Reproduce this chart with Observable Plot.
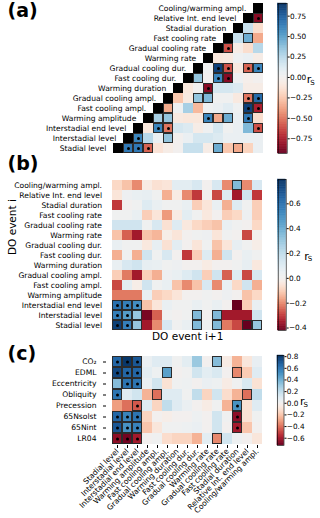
<!DOCTYPE html>
<html><head><meta charset="utf-8">
<script src="https://cdn.jsdelivr.net/npm/d3@7"></script>
<script src="https://cdn.jsdelivr.net/npm/@observablehq/plot@0.6"></script>
<style>
html,body{margin:0;padding:0;background:#fff;}
#chart{position:relative;width:320px;height:518px;overflow:hidden;font-family:"DejaVu Sans",sans-serif;}
#chart svg{position:absolute;left:0;top:0;}
</style></head><body><div id="chart"></div>
<script>
// ---------- data ----------
const variables = ["Stadial level","Interstadial level","Interstadial end level","Warming amplitude","Fast cooling ampl.","Gradual cooling ampl.","Warming duration","Fast cooling dur.","Gradual cooling dur.","Warming rate","Gradual cooling rate","Fast cooling rate","Stadial duration","Relative Int. end level","Cooling/warming ampl."];
const climateVars = ["CO₂","EDML","Eccentricity","Obliquity","Precession","65Nsolst","65Nint","LR04"];

// (a) upper triangle: row r holds columns r+1 .. 14
const corrA = [
  [0.65, 0.65, -0.55, -0.12, -0.05, 0.0, 0.2, 0.2, -0.05, 0.45, -0.25, -0.35, -0.2, 0.05],
  [0.6, 0.25, 0.05, 0.35, 0.0, 0.05, 0.15, 0.15, 0.12, 0.05, 0.05, 0.05, 0.05],
  [-0.1, 0.6, -0.5, 0.15, 0.12, -0.05, 0.03, 0.15, 0.02, 0.05, 0.4, -0.6],
  [0.3, 0.35, -0.08, -0.1, -0.1, 0.6, -0.35, 0.45, 0.05, 0.65, -0.15],
  [-0.35, 0.03, 0.3, -0.3, 0.03, 0.05, 0.1, 0.03, 0.85, -0.75],
  [-0.25, -0.08, 0.35, 0.4, 0.02, 0.02, -0.08, -0.5, 0.7],
  [-0.1, 0.0, -0.85, 0.15, 0.15, 0.12, -0.05, -0.05],
  [0.35, 0.0, 0.6, -0.85, 0.03, -0.03, 0.0],
  [0.02, 0.85, -0.6, -0.08, -0.55, 0.6],
  [-0.1, -0.08, 0.03, 0.05, -0.05],
  [-0.6, -0.05, -0.15, 0.25],
  [0.2, 0.45, -0.35],
  [0.2, -0.15],
  [-0.85]
];
const boxesA = [[0,10],[0,12],[1,5],[3,4],[3,5],[3,10],[3,11],[4,5],[5,8],[5,9],[7,8],[11,13]];
const dotsA = [[0,1],[0,2],[0,3],[1,2],[2,4],[2,5],[2,14],[3,9],[3,13],[4,13],[4,14],[5,13],[5,14],[6,9],[7,10],[7,11],[8,10],[8,11],[8,13],[8,14],[10,11],[13,14]];

// (b) full matrix, row = DO event i variable, column = DO event i+1 variable
const corrB = [
  [0.75, 0.55, 0.3, -0.35, -0.2, 0.12, 0.02, 0.05, 0.35, 0.02, 0.35, -0.22, -0.28, -0.42, 0.3],
  [0.55, 0.45, 0.3, -0.4, -0.25, 0.02, 0.0, 0.02, 0.35, 0.0, 0.35, -0.35, -0.35, -0.35, 0.15],
  [0.6, 0.55, 0.5, -0.12, -0.05, 0.05, 0.02, 0.02, 0.05, 0.02, 0.05, 0.0, -0.42, -0.1, 0.05],
  [-0.22, -0.22, -0.22, 0.05, -0.1, -0.08, -0.05, 0.0, 0.0, 0.02, 0.0, 0.03, 0.0, -0.12, -0.08],
  [-0.28, 0.08, -0.02, 0.15, 0.02, 0.05, -0.12, -0.2, -0.12, 0.12, -0.2, 0.05, -0.08, 0.15, -0.15],
  [-0.1, -0.22, -0.35, -0.1, -0.15, 0.03, 0.05, 0.1, 0.15, -0.1, 0.15, -0.25, 0.1, -0.28, 0.12],
  [0.05, 0.12, 0.15, 0.06, 0.05, 0.02, 0.03, 0.0, 0.0, -0.03, 0.0, 0.0, 0.02, 0.06, -0.04],
  [-0.15, 0.02, -0.15, 0.15, 0.02, 0.12, 0.0, -0.3, -0.1, 0.1, -0.15, 0.15, 0.0, 0.05, 0.02],
  [0.05, 0.02, 0.02, -0.04, 0.06, -0.06, 0.08, 0.0, -0.05, 0.02, -0.12, -0.05, 0.06, 0.02, -0.02],
  [-0.12, -0.25, -0.35, -0.12, -0.14, -0.02, -0.05, 0.0, 0.02, 0.03, -0.05, 0.02, 0.0, -0.28, 0.0],
  [0.15, 0.15, 0.15, 0.02, 0.12, -0.06, 0.1, -0.04, -0.08, -0.1, -0.12, 0.05, 0.02, 0.0, -0.08],
  [0.02, 0.02, 0.05, -0.1, -0.05, -0.18, -0.03, 0.08, 0.02, -0.04, 0.0, -0.1, -0.08, 0.03, -0.1],
  [-0.3, 0.0, 0.02, 0.1, 0.05, 0.02, 0.02, 0.05, -0.1, -0.05, 0.05, -0.15, 0.1, 0.02, -0.1],
  [-0.05, 0.03, 0.05, 0.06, 0.02, -0.15, -0.03, -0.2, -0.3, 0.0, -0.28, 0.1, -0.35, 0.15, -0.3],
  [-0.08, -0.12, -0.2, -0.03, -0.06, -0.05, 0.08, 0.08, 0.12, 0.0, 0.12, -0.2, 0.35, -0.2, 0.12]
];
const boxesB = [[0,2],[1,2],[0,8],[0,10],[0,13],[0,14],[1,8],[1,10],[14,12]];
const dotsB = [[0,0],[0,1],[1,0],[1,1],[2,0],[2,1],[2,2]];

// (c) rows = climate variables, columns = DO event variables
const corrC = [
  [0.65, 0.8, 0.7, 0.05, 0.1, 0.1, 0.02, 0.08, 0.3, 0.0, 0.35, -0.05, -0.25, -0.08, 0.06],
  [0.75, 0.65, 0.65, 0.08, 0.03, 0.45, 0.0, 0.02, 0.15, 0.08, 0.12, 0.0, -0.35, -0.18, 0.1],
  [0.35, 0.6, 0.6, 0.05, 0.15, -0.1, 0.02, 0.03, 0.0, 0.05, 0.03, -0.05, 0.02, 0.12, -0.1],
  [0.6, 0.1, 0.15, -0.25, -0.4, 0.1, 0.1, 0.02, 0.2, -0.15, 0.15, -0.12, -0.25, -0.4, 0.2],
  [-0.3, -0.4, -0.45, 0.1, -0.15, 0.2, 0.1, 0.05, 0.0, -0.05, 0.02, -0.25, 0.5, -0.1, 0.1],
  [0.65, 0.55, 0.6, -0.15, 0.0, -0.03, 0.0, 0.0, 0.03, 0.0, 0.15, 0.02, -0.65, -0.1, 0.02],
  [0.7, 0.5, 0.55, -0.2, -0.08, 0.02, 0.02, 0.03, 0.05, 0.0, 0.15, 0.0, -0.6, -0.2, 0.0],
  [-0.65, -0.7, -0.6, 0.0, 0.02, -0.12, -0.15, -0.15, -0.25, 0.08, -0.35, 0.15, 0.03, 0.0, -0.08]
];
const boxesC = [[0,10],[1,5],[1,12],[2,0],[3,4],[3,13],[7,10]];
const dotsC = [[0,0],[0,1],[0,2],[1,0],[1,1],[1,2],[2,1],[2,2],[3,0],[4,2],[4,12],[5,0],[5,1],[5,2],[5,12],[6,0],[6,1],[6,2],[6,12],[7,0],[7,1],[7,2]];

const ticksA = [-0.75, -0.5, -0.25, 0, 0.25, 0.5, 0.75];
const ticksB = [-0.4, -0.2, 0, 0.2, 0.4, 0.6];
const ticksC = [-0.6, -0.4, -0.2, 0, 0.2, 0.4, 0.6, 0.8];
const rangeA = [-0.93, 0.905];
const rangeB = [-0.42, 0.796];
const rangeC = [-0.725, 0.82];

// ---------- drawing ----------
const W = 320, H = 518, FS = 7.6, CFS = 7.3, FONT = "DejaVu Sans";
const chart = document.getElementById("chart");
const add = (svg) => chart.appendChild(svg);
const style = {background: "transparent", fontFamily: FONT, fontSize: FS + "px", overflow: "visible", color: "black"};
const colorOpts = (domain) => ({type: "diverging", scheme: "RdBu", domain, pivot: 0, symmetric: false});
const pick = (list, rows, cols) => list.map(([r, c]) => ({row: rows[r], col: cols[c]}));
const boxMark = (d) => Plot.cell(d, {x: "col", y: "row", fill: "none", stroke: "#2b2b2b", strokeWidth: 1, inset: 0.5});
const dotMark = (d) => Plot.dot(d, {x: "col", y: "row", r: 1.5, fill: "black", stroke: "none"});

// frame geometry
const frameA = {left: 106.7, right: 268.7, top: 3, bottom: 153};
const frameB = {left: 106, right: 268.3, top: 179, bottom: 330};
const frameC = {left: 106, right: 268.3, top: 355, bottom: 445};
const margins = (f) => ({marginLeft: f.left, marginRight: W - f.right, marginTop: f.top, marginBottom: H - f.bottom});

// Panel (a)
const dataA = [];
corrA.forEach((vals, r) => vals.forEach((v, k) => dataA.push({row: variables[r], col: variables[r + 1 + k], v})));
const diagA = variables.map((v) => ({row: v, col: v}));
add(Plot.plot({
  width: W, height: H, ...margins(frameA), style,
  x: {type: "band", domain: variables, padding: 0, axis: null},
  y: {type: "band", domain: variables.slice().reverse(), padding: 0, axis: null},
  color: colorOpts(rangeA),
  marks: [
    Plot.cell(dataA, {x: "col", y: "row", fill: "v", shapeRendering: "crispEdges"}),
    Plot.cell(diagA, {x: "col", y: "row", fill: "black", shapeRendering: "crispEdges"}),
    boxMark(pick(boxesA.concat(dotsA), variables, variables)),
    dotMark(pick(dotsA, variables, variables)),
    Plot.text(variables, {x: (d) => d, y: (d) => d, text: (d) => d, textAnchor: "end", dx: -12.2, fontSize: FS, fill: "black"}),
    Plot.text(["(a)"], {frameAnchor: "top-left", dx: 7 - frameA.left, dy: 13, text: (d) => d, textAnchor: "start", lineAnchor: "bottom", fontSize: 19, fontWeight: "bold", fill: "black"})
  ]
}));

// Panel (b)
const dataB = [];
corrB.forEach((vals, r) => vals.forEach((v, c) => dataB.push({row: variables[r], col: variables[c], v})));
add(Plot.plot({
  width: W, height: H, ...margins(frameB), style,
  x: {type: "band", domain: variables, padding: 0, axis: null},
  y: {type: "band", domain: variables.slice().reverse(), padding: 0},
  color: colorOpts(rangeB),
  marks: [
    Plot.cell(dataB, {x: "col", y: "row", fill: "v", shapeRendering: "crispEdges"}),
    boxMark(pick(boxesB.concat(dotsB), variables, variables)),
    dotMark(pick(dotsB, variables, variables)),
    Plot.axisY({anchor: "left", tickSize: 0, tickPadding: 4.5, fontSize: FS, label: null}),
    Plot.text(["DO event i+1"], {frameAnchor: "bottom", dy: 9.5, text: (d) => d, fontSize: 10.5, fill: "black"}),
    Plot.text(["DO event i"], {frameAnchor: "left", dx: 12 - frameB.left, text: (d) => d, rotate: -90, fontSize: 10.5, fill: "black"}),
    Plot.text(["(b)"], {frameAnchor: "top-left", dx: 7 - frameB.left, dy: -9.5, text: (d) => d, textAnchor: "start", lineAnchor: "bottom", fontSize: 19, fontWeight: "bold", fill: "black"})
  ]
}));

// Panel (c)
const dataC = [];
corrC.forEach((vals, r) => vals.forEach((v, c) => dataC.push({row: climateVars[r], col: variables[c], v})));
add(Plot.plot({
  width: W, height: H, ...margins(frameC), style,
  x: {type: "band", domain: variables, padding: 0},
  y: {type: "band", domain: climateVars, padding: 0},
  color: colorOpts(rangeC),
  marks: [
    Plot.cell(dataC, {x: "col", y: "row", fill: "v", shapeRendering: "crispEdges"}),
    boxMark(pick(boxesC.concat(dotsC), climateVars, variables)),
    dotMark(pick(dotsC, climateVars, variables)),
    Plot.axisY({anchor: "left", tickSize: 3, tickPadding: 7, fontSize: FS, label: null}),
    Plot.axisX({anchor: "bottom", tickSize: 3, tickPadding: 1.5, tickRotate: -45, fontSize: FS, label: null}),
    Plot.text(["(c)"], {frameAnchor: "top-left", dx: 7 - frameC.left, dy: 4, text: (d) => d, textAnchor: "start", lineAnchor: "bottom", fontSize: 19, fontWeight: "bold", fill: "black"})
  ]
}));

// Colorbars
function colorbar(frame, domain, ticks, fmt, labelDx) {
  const [lo, hi] = domain, n = 240;
  const steps = d3.range(n).map((i) => ({y1: lo + (hi - lo) * i / n, y2: lo + (hi - lo) * (i + 1) / n}));
  return Plot.plot({
    width: W, height: H, ...margins(frame), style,
    x: {domain: [0, 1], axis: null},
    y: {domain, axis: null},
    color: colorOpts(domain),
    marks: [
      Plot.rect(steps, {x1: 0, x2: 1, y1: "y1", y2: "y2", fill: (d) => (d.y1 + d.y2) / 2, stroke: (d) => (d.y1 + d.y2) / 2, strokeWidth: 0.4}),
      Plot.frame({stroke: "black", strokeWidth: 0.6}),
      Plot.axisY(ticks, {anchor: "right", tickSize: 2, tickPadding: 0.8, tickFormat: fmt, fontSize: CFS, label: null}),
      Plot.text(["r"], {frameAnchor: "right", dx: labelDx, dy: 1, text: (d) => d, textAnchor: "start", fontSize: 11, fill: "black"}),
      Plot.text(["S"], {frameAnchor: "right", dx: labelDx + 3.6, dy: 4, text: (d) => d, textAnchor: "start", fontSize: 7, fill: "black"})
    ]
  });
}
add(colorbar({left: 277.7, right: 286.7, top: frameA.top, bottom: frameA.bottom}, rangeA, ticksA, d3.format(".2f"), 19.5));
add(colorbar({left: 277.7, right: 285.7, top: frameB.top, bottom: frameB.bottom}, rangeB, ticksB, d3.format(".1f"), 18));
add(colorbar({left: 277, right: 283.5, top: frameC.top, bottom: frameC.bottom}, rangeC, ticksC, d3.format(".1f"), 16));
</script></body></html>
